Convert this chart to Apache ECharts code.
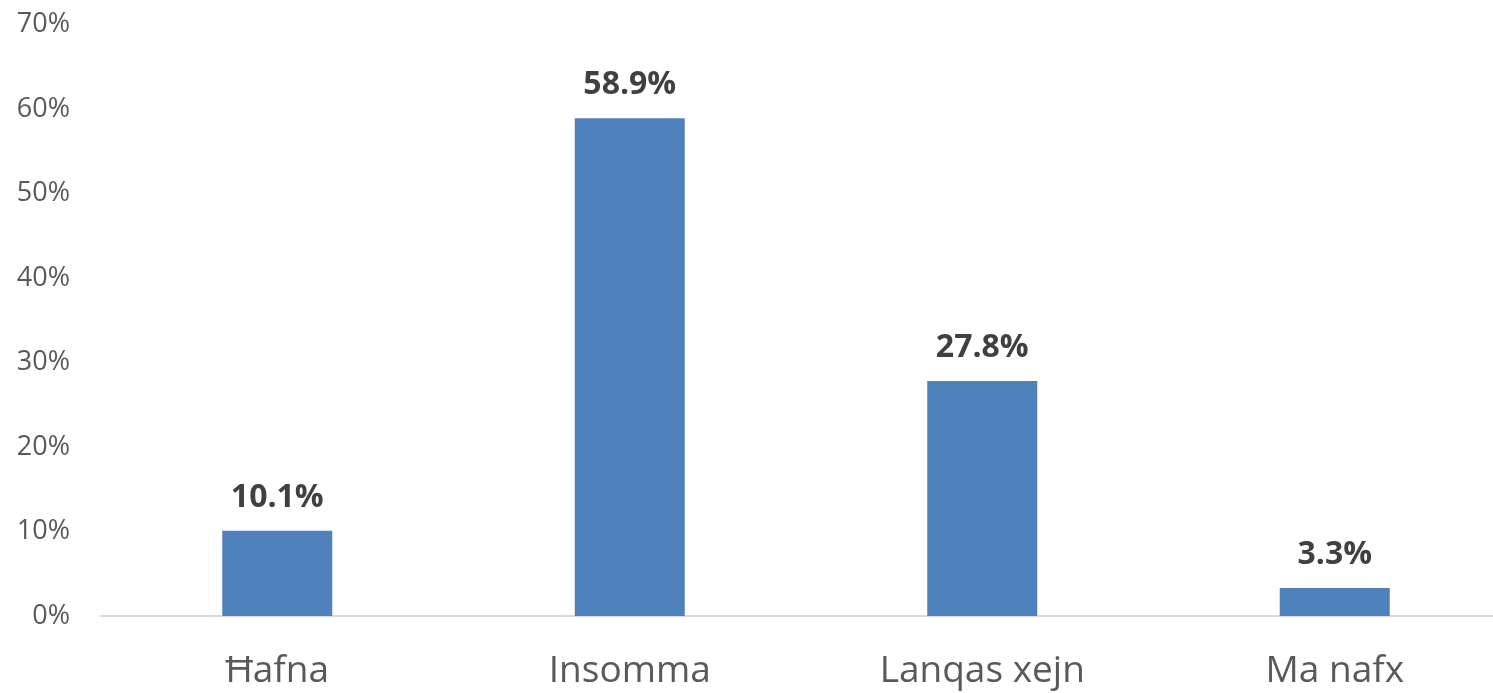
<!DOCTYPE html>
<html><head><meta charset="utf-8">
<script src="https://cdn.jsdelivr.net/npm/echarts@6/dist/echarts.min.js"></script>
<style>html,body{margin:0;padding:0;background:#fff}#c{width:1493px;height:693px}</style>
</head><body><div id="c"></div>
<script>
const categories = ["Ħafna", "Insomma", "Lanqas xejn", "Ma nafx"];
const values = [10.1, 58.9, 27.8, 3.3];
const yTicks = [0, 10, 20, 30, 40, 50, 60, 70];

const chart = echarts.init(document.getElementById('c'), null, {renderer: 'canvas'});
chart.setOption({
  animation: false,
  grid: {left: 101, width: 1410, top: 24.5, bottom: 77, containLabel: false, outerBoundsMode: 'none'},
  xAxis: {
    type: 'category', data: categories,
    axisLine: {lineStyle: {color: '#d9d9d9', width: 2}},
    axisTick: {show: false},
    axisLabel: {color: '#595959', fontSize: 37, fontFamily: 'Open Sans', margin: 37}
  },
  yAxis: {
    type: 'value', min: yTicks[0], max: yTicks[yTicks.length - 1], interval: 10,
    splitLine: {show: false}, axisLine: {show: false}, axisTick: {show: false},
    axisLabel: {color: '#595959', fontSize: 27, fontFamily: 'Open Sans', margin: 31, formatter: v => v + '%'}
  },
  series: [{
    type: 'bar', data: values, barWidth: 110,
    itemStyle: {color: '#4F81BD'},
    label: {show: true, position: 'top', distance: 17, color: '#404040', fontSize: 32, fontWeight: 'bold', fontFamily: 'Open Sans', formatter: p => p.value.toFixed(1) + '%'}
  }]
});
</script></body></html>
